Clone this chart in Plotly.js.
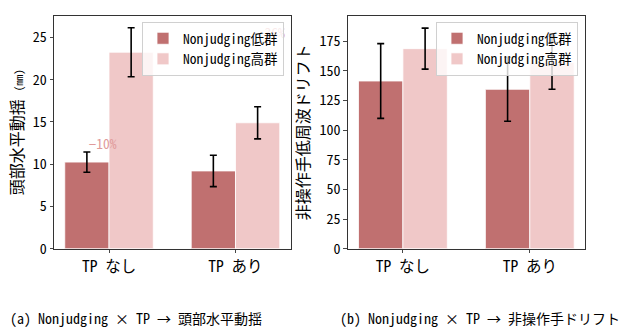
<!DOCTYPE html>
<html>
<head>
<meta charset="utf-8">
<script src="https://cdn.plot.ly/plotly-3.0.1.min.js"></script>
<style>html,body{margin:0;padding:0;background:#fff;}#chart{width:627px;height:327px;}</style>
</head>
<body>
<div id="chart"></div>
<script>
// ---- data ----
const categories = ['TP なし', 'TP あり'];
const seriesNames = ['Nonjudging低群', 'Nonjudging高群'];
const headLow = [10.25, 9.2];
const headLowErr = [1.2, 1.85];
const headHigh = [23.25, 14.9];
const headHighErr = [2.9, 1.9];
const driftLow = [141.5, 134.5];
const driftLowErr = [31.5, 27.0];
const driftHigh = [168.8, 157.0];
const driftHighErr = [17.3, 22.5];
const changeLabels = ['−10%', '−36%'];
const captions = ['(a) Nonjudging × TP → 頭部水平動揺', '(b) Nonjudging × TP → 非操作手ドリフト'];

// ---- style ----
const FONT = '"Noto Sans Mono CJK JP", "DejaVu Sans Mono", "Noto Sans CJK JP", monospace';
const DARK = '#c07070';
const LIGHT = '#f0c8c8';
const ANNO = '#e09a9a';
const xpos = categories.map((_, i) => i);

function barTrace(y, err, color, name, xa, ya, leg, show) {
  return {
    type: 'bar', x: xpos, y: y, name: name,
    xaxis: xa, yaxis: ya, legend: leg, showlegend: show,
    marker: {color: color, line: {color: '#ffffff', width: 0.8}},
    error_y: {type: 'data', array: err, visible: true, color: '#000', thickness: 1.6, width: 3.5},
    hoverinfo: 'skip'
  };
}

const traces = [
  barTrace(headLow, headLowErr, DARK, seriesNames[0], 'x', 'y', 'legend', true),
  barTrace(headHigh, headHighErr, LIGHT, seriesNames[1], 'x', 'y', 'legend', true),
  barTrace(driftLow, driftLowErr, DARK, seriesNames[0], 'x2', 'y2', 'legend2', true),
  barTrace(driftHigh, driftHighErr, LIGHT, seriesNames[1], 'x2', 'y2', 'legend2', true),
  {
    type: 'scatter', mode: 'text', xaxis: 'x', yaxis: 'y', showlegend: false,
    x: [-0.05, 1.28],
    y: [Math.max(headLow[0], headLow[1]) + 1.95, Math.max(headHigh[0], headHigh[1]) + 2.05],
    text: changeLabels,
    textfont: {family: FONT, size: 13.5, color: ANNO},
    hoverinfo: 'skip'
  }
];

const axisCommon = {
  showline: true, mirror: true, linecolor: '#333', linewidth: 1,
  ticks: 'outside', ticklen: 3.5, tickwidth: 0.9, tickcolor: '#333',
  showgrid: false, zeroline: false, fixedrange: true
};

const layout = {
  width: 627, height: 327,
  margin: {l: 0, r: 0, t: 0, b: 0},
  paper_bgcolor: '#fff', plot_bgcolor: '#fff',
  font: {family: FONT, color: '#000'},
  barmode: 'group', bargap: 0.3, bargroupgap: 0,
  xaxis: Object.assign({}, axisCommon, {
    domain: [54/627, 290.5/627], anchor: 'y', range: [-0.435, 1.435],
    tickvals: xpos, ticktext: categories, tickfont: {family: FONT, size: 15.5}
  }),
  yaxis: Object.assign({}, axisCommon, {
    domain: [78.3/327, 311.3/327], anchor: 'x', range: [0, 27.57],
    tickvals: [0, 5, 10, 15, 20, 25], tickfont: {family: FONT, size: 14},
    title: {text: '頭部水平動揺 <span style="font-size:11px">(mm)</span>', font: {family: FONT, size: 16}, standoff: 5}
  }),
  xaxis2: Object.assign({}, axisCommon, {
    domain: [347.7/627, 585/627], anchor: 'y2', range: [-0.435, 1.435],
    tickvals: xpos, ticktext: categories, tickfont: {family: FONT, size: 15.5}
  }),
  yaxis2: Object.assign({}, axisCommon, {
    domain: [78.3/327, 311.3/327], anchor: 'x2', range: [0, 196.6],
    tickvals: [0, 25, 50, 75, 100, 125, 150, 175], tickfont: {family: FONT, size: 14},
    title: {text: '非操作手低周波ドリフト', font: {family: FONT, size: 16}, standoff: 5}
  }),
  legend: {
    x: 284/627, y: 305/327, xref: 'paper', yref: 'paper', xanchor: 'right', yanchor: 'top',
    bgcolor: 'rgba(255,255,255,0.8)', bordercolor: '#d0d0d0', borderwidth: 1,
    font: {family: FONT, size: 13.5}, tracegroupgap: 0, itemwidth: 30
  },
  legend2: {
    x: 578/627, y: 305/327, xref: 'paper', yref: 'paper', xanchor: 'right', yanchor: 'top',
    bgcolor: 'rgba(255,255,255,0.8)', bordercolor: '#d0d0d0', borderwidth: 1,
    font: {family: FONT, size: 13.5}, tracegroupgap: 0, itemwidth: 30
  },
  annotations: [
    {text: captions[0], xref: 'paper', yref: 'paper', x: 8/627, y: 9/327, xanchor: 'left', yanchor: 'middle', showarrow: false, font: {family: FONT, size: 14, color: '#000'}},
    {text: captions[1], xref: 'paper', yref: 'paper', x: 338/627, y: 9/327, xanchor: 'left', yanchor: 'middle', showarrow: false, font: {family: FONT, size: 14, color: '#000'}}
  ]
};

Plotly.newPlot('chart', traces, layout, {staticPlot: true, displayModeBar: false});
</script>
</body>
</html>
